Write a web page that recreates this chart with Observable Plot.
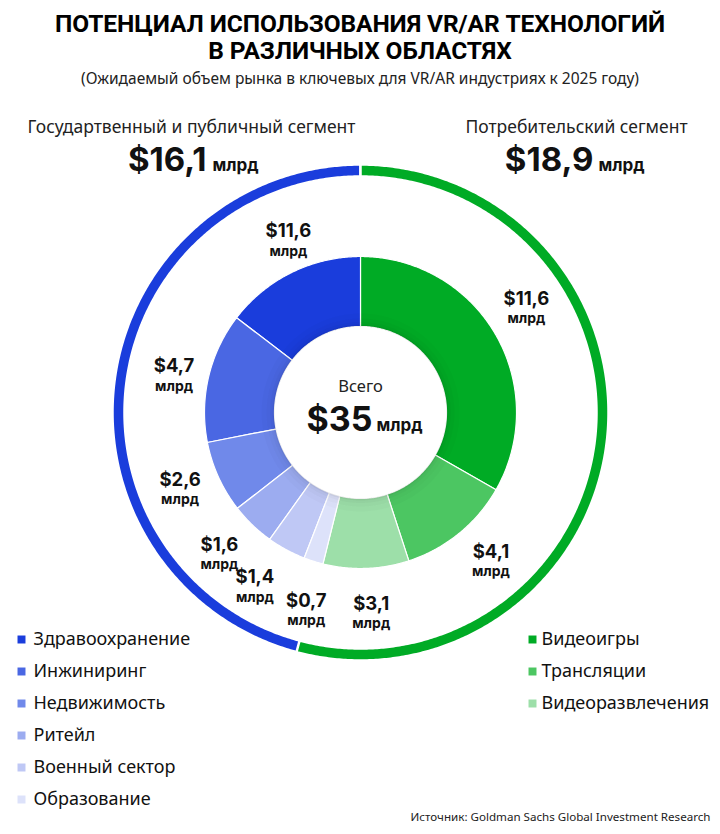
<!DOCTYPE html>
<html>
<head>
<meta charset="utf-8">
<script src="https://cdn.jsdelivr.net/npm/d3@7"></script>
<script src="https://cdn.jsdelivr.net/npm/@observablehq/plot@0.6"></script>
<style>
  html, body { margin: 0; padding: 0; background: #fff; }
  #wrap { width: 720px; }
  #head { height: 96px; box-sizing: border-box; padding-top: 10px; text-align: center; }
  #title { font-family: Roboto, "Noto Sans", sans-serif; font-weight: 700; font-size: 24.5px; line-height: 27px; color: #000; letter-spacing: -0.1px; }
  #sub { font-family: "Noto Sans", sans-serif; font-size: 15.5px; color: #222; margin-top: 3px; }
</style>
</head>
<body>
<div id="wrap">
  <div id="head">
    <div id="title">ПОТЕНЦИАЛ ИСПОЛЬЗОВАНИЯ VR/AR ТЕХНОЛОГИЙ<br>В РАЗЛИЧНЫХ ОБЛАСТЯХ</div>
    <div id="sub">(Ожидаемый объем рынка в ключевых для VR/AR индустриях к 2025 году)</div>
  </div>
  <div id="chart"></div>
</div>
<script>
// ---- data ----
const consumerCats = ["Видеоигры", "Трансляции", "Видеоразвлечения"];
const consumerVals = [11.6, 4.1, 3.1];
const consumerLabels = ["$11,6", "$4,1", "$3,1"];
const publicCats = ["Здравоохранение", "Инжиниринг", "Недвижимость", "Ритейл", "Военный сектор", "Образование"];
const publicVals = [5.1, 4.7, 2.6, 1.6, 1.4, 0.7];
const publicLabels = ["$11,6", "$4,7", "$2,6", "$1,6", "$1,4", "$0,7"];
const segmentNames = ["Государтвенный и публичный сегмент", "Потребительский сегмент"];
const segmentVals = [16.1, 18.9];
const segmentLabels = ["$16,1", "$18,9"];
const totalLabel = "$35";
const unit = "млрд";
const totalWord = "Всего";
const source = "Источник: Goldman Sachs Global Investment Research";

// ---- styles ----
const consumerColors = ["#00ab25", "#4cc662", "#9ddfa9"];
const publicColors = ["#1a3ddc", "#4a67e3", "#7089ea", "#9cacf0", "#bfc8f5", "#dde2fa"];
const segKeys = ["seg-public", "seg-consumer"];
const segColors = ["#1a3ddc", "#00ab25"];
// label placement tweaks (degrees of angular shift, label radius in px)
const consumerLabelShift = [-2, -2, -1];
const publicLabelShift = [3.5, -2, 1.5, 1, 2.8, -2.2];
const labelRadius = [196, 198, 201, 186, 190, 196, 200, 204, 205];

// ---- geometry helpers ----
const cx = 360, cy = 412;
const total = d3.sum(consumerVals) + d3.sum(publicVals);
const degPer = 360 / total;
const rad = a => a * Math.PI / 180;
const px = (a, r) => cx + r * Math.sin(rad(a));
const py = (a, r) => cy - r * Math.cos(rad(a));

function ring(key, a0, a1, r0, r1) {
  const pts = [];
  const n = Math.max(2, Math.ceil((a1 - a0) / 0.5) + 1);
  for (let i = 0; i < n; i++) { const a = a0 + (a1 - a0) * i / (n - 1); pts.push({key, x: px(a, r1), y: py(a, r1)}); }
  for (let i = n - 1; i >= 0; i--) { const a = a0 + (a1 - a0) * i / (n - 1); pts.push({key, x: px(a, r0), y: py(a, r0)}); }
  return pts;
}

const slices = [];
const labels = [];
let acc = 0;
consumerCats.forEach((c, i) => {
  const a0 = acc * degPer, a1 = (acc + consumerVals[i]) * degPer;
  slices.push(...ring(c, a0, a1, 86, 156));
  labels.push({text: consumerLabels[i], a: (a0 + a1) / 2 + consumerLabelShift[i]});
  acc += consumerVals[i];
});
acc = 0;
publicCats.forEach((c, i) => {
  const a1 = 360 - acc * degPer, a0 = 360 - (acc + publicVals[i]) * degPer;
  slices.push(...ring(c, a0, a1, 86, 156));
  labels.push({text: publicLabels[i], a: (a0 + a1) / 2 + publicLabelShift[i]});
  acc += publicVals[i];
});
const outer = [
  ...ring(segKeys[0], 360 - segmentVals[0] * degPer, 360, 236, 248),
  ...ring(segKeys[1], 0, segmentVals[1] * degPer, 236, 248)
];
labels.forEach((d, i) => { d.x = px(d.a, labelRadius[i]); d.y = py(d.a, labelRadius[i]); });

// soft inner shadow around the hole
const shadowBands = [[86, 88, 0.10], [88, 90.5, 0.06], [90.5, 94, 0.035], [94, 99, 0.015]];
const shadow = shadowBands.flatMap(([r0, r1, o], i) => ring("s" + i, 0, 360, r0, r1).map(p => ({...p, o})));

const legendPublic = publicCats.map((c, i) => ({c, row: i}));
const legendConsumer = consumerCats.map((c, i) => ({c, row: i}));
const rowY = r => 639 + r * 32;

const bodyFont = "'Noto Sans', sans-serif";
const boldFont = "Inter, Roboto, 'Noto Sans', sans-serif";

const chart = Plot.plot({
  width: 720,
  height: 738,
  margin: 0,
  x: {domain: [0, 720], range: [0, 720], axis: null},
  y: {domain: [96, 834], range: [0, 738], axis: null},
  opacity: {type: "identity"},
  color: {type: "ordinal", domain: [...consumerCats, ...publicCats, ...segKeys], range: [...consumerColors, ...publicColors, ...segColors]},
  marks: [
    Plot.line(outer, {x: "x", y: "y", z: "key", fill: "key", stroke: "white", strokeWidth: 2.5, curve: "linear-closed"}),
    Plot.line(slices, {x: "x", y: "y", z: "key", fill: "key", stroke: "white", strokeWidth: 1.2, curve: "linear-closed"}),
    Plot.line(shadow, {x: "x", y: "y", z: "key", fill: "#000", fillOpacity: "o", stroke: "none", curve: "linear-closed"}),
    // value labels
    Plot.text(labels, {x: "x", y: "y", text: "text", dy: -9.5, fontFamily: boldFont, fontWeight: 700, fontSize: 18.5, fill: "#111"}),
    Plot.text(labels, {x: "x", y: "y", text: () => unit, dy: 10.5, fontFamily: boldFont, fontWeight: 700, fontSize: 14, fill: "#111"}),
    // center
    Plot.text([totalWord], {x: () => cx, y: () => cy - 26, text: d => d, fontFamily: bodyFont, fontSize: 16.5, fill: "#222"}),
    Plot.text([totalLabel], {x: () => cx + 12, y: () => cy + 8, text: d => d, textAnchor: "end", fontFamily: boldFont, fontWeight: 700, fontSize: 34, fill: "#111"}),
    Plot.text([unit], {x: () => cx + 16, y: () => cy + 13, text: d => d, textAnchor: "start", fontFamily: boldFont, fontWeight: 700, fontSize: 17, fill: "#111"}),
    // segment headers
    Plot.text(segmentNames, {x: (d, i) => [191, 576][i], y: () => 127, text: d => d, fontFamily: bodyFont, fontSize: 17.5, fill: "#222"}),
    Plot.text(segmentLabels, {x: (d, i) => [206, 593][i], y: () => 160, text: d => d, textAnchor: "end", fontFamily: boldFont, fontWeight: 700, fontSize: 33, fill: "#111"}),
    Plot.text(segmentLabels, {x: (d, i) => [212, 598][i], y: () => 165, text: () => unit, textAnchor: "start", fontFamily: boldFont, fontWeight: 700, fontSize: 17, fill: "#111"}),
    // legends
    Plot.dot(legendPublic, {x: () => 21, y: d => rowY(d.row), fill: "c", symbol: "square", r: 4.5}),
    Plot.text(legendPublic, {x: () => 33, y: d => rowY(d.row), text: "c", textAnchor: "start", fontFamily: bodyFont, fontSize: 18, fill: "#111"}),
    Plot.dot(legendConsumer, {x: () => 532, y: d => rowY(d.row), fill: "c", symbol: "square", r: 4.5}),
    Plot.text(legendConsumer, {x: () => 541, y: d => rowY(d.row), text: "c", textAnchor: "start", fontFamily: bodyFont, fontSize: 18, fill: "#111"}),
    // source
    Plot.text([source], {x: () => 710, y: () => 817, text: d => d, textAnchor: "end", fontFamily: bodyFont, fontSize: 11.6, fill: "#222"})
  ]
});
document.getElementById("chart").appendChild(chart);
</script>
</body>
</html>
